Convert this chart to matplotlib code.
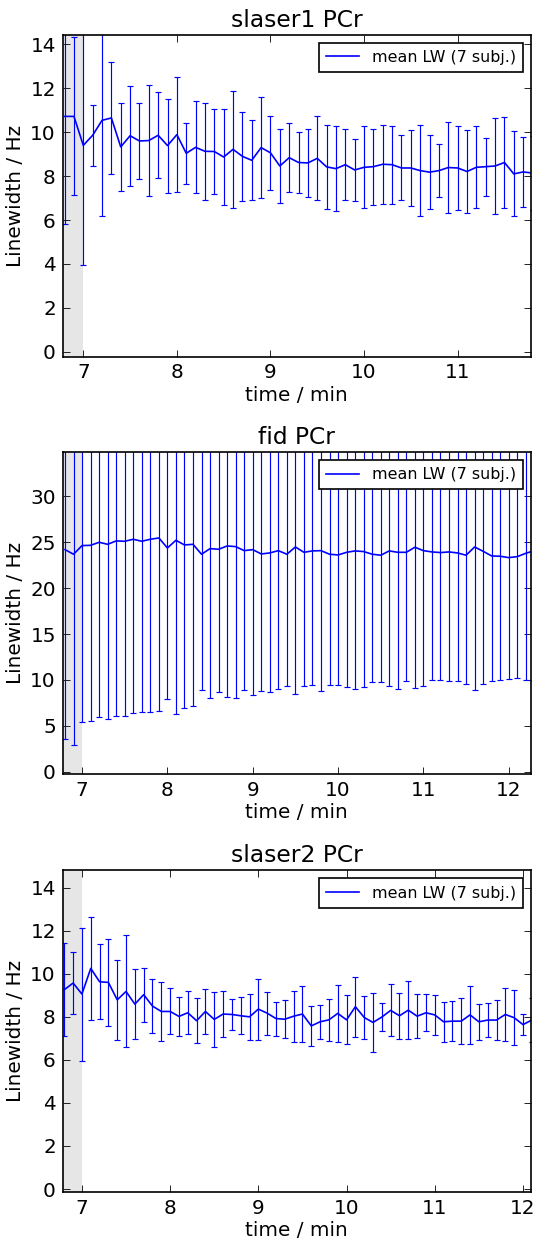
import numpy as np
import matplotlib
matplotlib.use('Agg')
import matplotlib.pyplot as plt

# time points (min), 0.1 min spacing
time = [6.8, 6.9, 7.0, 7.1, 7.2, 7.3, 7.4, 7.5, 7.6, 7.7,
        7.8, 7.9, 8.0, 8.1, 8.2, 8.3, 8.4, 8.5, 8.6, 8.7,
        8.8, 8.9, 9.0, 9.1, 9.2, 9.3, 9.4, 9.5, 9.6, 9.7,
        9.8, 9.9, 10.0, 10.1, 10.2, 10.3, 10.4, 10.5, 10.6, 10.7,
        10.8, 10.9, 11.0, 11.1, 11.2, 11.3, 11.4, 11.5, 11.6, 11.7,
        11.8, 11.9, 12.0, 12.1, 12.2, 12.3]

# slaser1 PCr
lw_slaser1 = [10.72, 10.72, 9.40, 9.86, 10.54, 10.65, 9.33, 9.84, 9.60, 9.62,
              9.86, 9.39, 9.89, 9.04, 9.31, 9.13, 9.12, 8.87, 9.22, 8.90,
              8.72, 9.30, 9.06, 8.46, 8.84, 8.62, 8.60, 8.81, 8.42, 8.34,
              8.52, 8.28, 8.40, 8.43, 8.54, 8.52, 8.37, 8.37, 8.25, 8.18,
              8.25, 8.39, 8.37, 8.21, 8.40, 8.43, 8.46, 8.62, 8.10, 8.19,
              8.14]
sd_slaser1 = [4.88, 3.60, 5.43, 1.39, 4.35, 2.55, 2.00, 2.27, 1.74, 2.54,
              1.95, 2.14, 2.63, 1.38, 2.10, 2.20, 1.95, 2.17, 2.66, 2.04,
              1.82, 2.30, 1.69, 1.67, 1.58, 1.40, 1.53, 1.91, 1.92, 1.95,
              1.63, 1.40, 1.87, 1.73, 1.79, 1.78, 1.48, 1.71, 2.08, 1.69,
              1.22, 2.07, 1.90, 1.89, 1.87, 1.32, 2.19, 2.07, 1.94, 1.59,
              1.70]

# fid PCr
lw_fid = [24.19, 23.69, 24.63, 24.66, 24.99, 24.77, 25.14, 25.10, 25.32, 25.10,
          25.32, 25.46, 24.37, 25.21, 24.70, 24.77, 23.69, 24.30, 24.23, 24.59,
          24.52, 24.08, 24.19, 23.72, 23.83, 24.08, 23.69, 24.48, 23.90, 24.05,
          24.08, 23.69, 23.61, 23.90, 24.05, 23.98, 23.69, 23.58, 24.05, 23.90,
          23.90, 24.45, 24.08, 23.94, 23.87, 23.94, 23.83, 23.58, 24.48, 24.01,
          23.50, 23.47, 23.32, 23.43, 23.79, 24.08]
sd_fid = [20.67, 20.79, 19.19, 19.15, 19.08, 19.08, 19.05, 19.01, 18.97, 18.61,
          18.83, 18.89, 16.50, 18.94, 17.74, 17.66, 14.77, 16.32, 15.60, 16.50,
          16.47, 15.19, 15.85, 14.94, 15.12, 15.05, 14.40, 16.06, 14.58, 14.62,
          15.27, 14.26, 14.18, 14.72, 15.02, 14.73, 13.97, 13.82, 14.76, 14.94,
          14.03, 15.35, 14.76, 13.97, 13.86, 14.11, 13.96, 14.04, 15.56, 14.43,
          13.60, 13.50, 13.24, 13.24, 13.85, 14.18]

# slaser2 PCr
lw_slaser2 = [9.26, 9.57, 9.06, 10.25, 9.63, 9.60, 8.79, 9.18, 8.59, 9.03,
              8.50, 8.25, 8.25, 8.02, 8.19, 7.82, 8.25, 7.88, 8.13, 8.11,
              8.05, 8.00, 8.36, 8.17, 7.92, 7.89, 8.03, 8.13, 7.58, 7.77,
              7.86, 8.16, 7.86, 8.47, 7.97, 7.74, 7.99, 8.30, 8.05, 8.31,
              8.03, 8.19, 8.09, 7.77, 7.80, 7.80, 8.09, 7.77, 7.85, 7.85,
              8.11, 7.96, 7.64, 7.85]
sd_slaser2 = [2.15, 1.42, 3.09, 2.41, 1.74, 2.01, 1.86, 2.60, 1.61, 1.26,
              1.26, 1.37, 1.07, 0.89, 0.99, 1.05, 1.06, 1.27, 1.07, 0.73,
              0.86, 1.07, 1.42, 1.00, 0.79, 0.87, 1.18, 1.31, 0.93, 0.78,
              0.98, 1.31, 1.14, 1.40, 0.98, 1.37, 0.67, 1.21, 1.08, 1.34,
              1.03, 0.87, 0.93, 0.92, 0.94, 1.06, 1.36, 0.84, 0.79, 0.93,
              1.23, 1.29, 0.47, 1.01]

titles = ['slaser1 PCr', 'fid PCr', 'slaser2 PCr']
means = [lw_slaser1, lw_fid, lw_slaser2]
sds = [sd_slaser1, sd_fid, sd_slaser2]
xlims = [(6.778, 11.783), (6.771, 12.26), (6.78, 12.09)]
ylims = [(-0.23, 14.43), (-0.25, 34.8), (-0.15, 14.8)]
yticks = [np.arange(0, 15, 2), np.arange(0, 31, 5), np.arange(0, 15, 2)]
bottoms = [0.7123, 0.3758, 0.0385]

plt.rcParams['font.family'] = 'DejaVu Sans'
plt.rcParams['font.size'] = 12

fig = plt.figure(figsize=(539 / 120, 1240 / 120), dpi=120)
fig.patch.set_facecolor('white')

for i in range(3):
    ax = fig.add_axes([0.116, bottoms[i], 0.869, 0.2595])
    m = means[i]
    t = time[:len(m)]
    ax.axvspan(xlims[i][0], 7.0, color='0.9', lw=0, zorder=0)
    ax.errorbar(t, m, yerr=sds[i], fmt='none', ecolor='b', elinewidth=0.7,
                capsize=2, capthick=0.7)
    ax.plot(t, m, 'b-', lw=1.0, label='mean LW (7 subj.)')
    ax.set_ylim(ylims[i])
    ax.set_yticks(yticks[i])
    ax.set_xticks(range(7, 13))
    ax.set_xlim(xlims[i])
    ax.tick_params(direction='in', top=True, right=True, length=4, width=0.5,
                   labelsize=12, pad=4)
    for s in ax.spines.values():
        s.set_linewidth(1.0)
    ax.set_title(titles[i], fontsize=14, pad=5)
    ax.set_xlabel('time / min', labelpad=2)
    ax.set_ylabel('Linewidth / Hz', labelpad=3)
    leg = ax.legend(loc='upper right', fontsize=9.5, fancybox=False,
                    framealpha=1, handlelength=2.1, borderpad=0.45)
    leg.get_frame().set_edgecolor('k')
    leg.get_frame().set_linewidth(1.0)

fig.savefig('out.png', dpi=120, facecolor='white')
